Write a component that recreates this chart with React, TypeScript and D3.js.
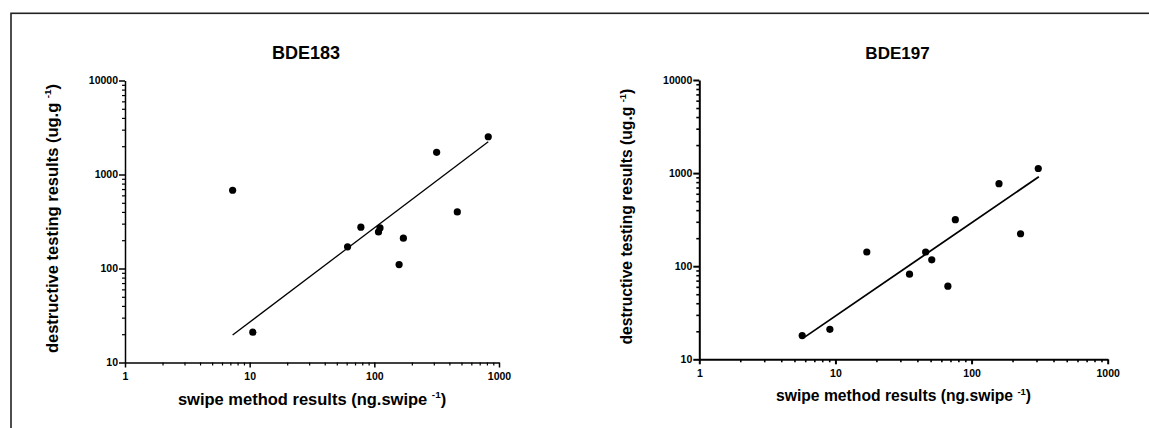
import { useEffect, useRef } from 'react';
import * as d3 from 'd3';

// BDE183 panel
const bde183Swipe = [7.3, 10.6, 61, 78, 108, 111, 158, 171, 316, 463, 820];
const bde183Destructive = [680, 21, 170, 275, 245, 270, 110, 210, 1720, 400, 2520];
const bde183FitSwipe = [7.3, 820];
const bde183FitDestructive = [19.6, 2230];

// BDE197 panel
const bde197Swipe = [5.7, 9.1, 17, 35, 46, 51, 67, 76, 159, 229, 309];
const bde197Destructive = [18, 21, 142, 82, 142, 117, 61, 316, 770, 223, 1120];
const bde197FitSwipe = [5.9, 312];
const bde197FitDestructive = [17.2, 914];

const xTicks = [1, 10, 100, 1000];
const yTicks = [10, 100, 1000, 10000];
const xLabel = 'swipe method results (ng.swipe ';
const yLabel = 'destructive testing results (ug.g ';

const FONT = '"Liberation Sans", Arial, sans-serif';

const panels = [
  {
    title: 'BDE183',
    swipe: bde183Swipe,
    destructive: bde183Destructive,
    fitSwipe: bde183FitSwipe,
    fitDestructive: bde183FitDestructive,
    left: 125, right: 499, top: 80.5, bottom: 362.5,
    labelFont: 16.5, titleFont: 18, axisWidth: 1.5, lineWidth: 1.3,
  },
  {
    title: 'BDE197',
    swipe: bde197Swipe,
    destructive: bde197Destructive,
    fitSwipe: bde197FitSwipe,
    fitDestructive: bde197FitDestructive,
    left: 699.3, right: 1107.7, top: 80, bottom: 359.3,
    labelFont: 15.7, titleFont: 17, axisWidth: 2, lineWidth: 1.8,
  },
];

const App = () => {
  const svgRef = useRef<SVGSVGElement>(null);

  useEffect(() => {
    const svg = d3.select(svgRef.current);
    svg.selectAll('*').remove();

    // outer frame (runs off the right and bottom edges)
    svg.append('rect')
      .attr('x', 11)
      .attr('y', 13.3)
      .attr('width', 1200)
      .attr('height', 500)
      .attr('fill', 'none')
      .attr('stroke', '#222')
      .attr('stroke-width', 1.6);

    panels.forEach(p => {
      const x = d3.scaleLog().domain([1, 1000]).range([p.left, p.right]);
      const y = d3.scaleLog().domain([10, 10000]).range([p.bottom, p.top]);
      const g = svg.append('g').style('font-family', FONT);

      const isMajor = (v: number) => Math.abs(Math.log10(v) - Math.round(Math.log10(v))) < 1e-9;
      const xMinor = x.ticks().filter(v => !isMajor(v));
      const yMinor = y.ticks().filter(v => !isMajor(v));

      // minor ticks
      g.append('g')
        .attr('transform', `translate(0,${p.bottom})`)
        .call(d3.axisBottom(x).tickValues(xMinor).tickSize(3).tickSizeOuter(0).tickFormat(() => ''))
        .call(a => a.select('.domain').remove())
        .call(a => a.selectAll('line').attr('stroke-width', p.axisWidth * 0.8));

      g.append('g')
        .attr('transform', `translate(${p.left},0)`)
        .call(d3.axisLeft(y).tickValues(yMinor).tickSize(3).tickSizeOuter(0).tickFormat(() => ''))
        .call(a => a.select('.domain').remove())
        .call(a => a.selectAll('line').attr('stroke-width', p.axisWidth * 0.8));

      // major ticks + labels
      const xAxis = g.append('g')
        .attr('transform', `translate(0,${p.bottom})`)
        .call(d3.axisBottom(x).tickValues(xTicks).tickSize(5).tickSizeOuter(0).tickPadding(5).tickFormat(d3.format('d')));
      const yAxis = g.append('g')
        .attr('transform', `translate(${p.left},0)`)
        .call(d3.axisLeft(y).tickValues(yTicks).tickSize(6).tickSizeOuter(0).tickPadding(1).tickFormat(d3.format('d')));

      [xAxis, yAxis].forEach(a => {
        a.select('.domain').attr('stroke-width', p.axisWidth).attr('stroke', '#000');
        a.selectAll('line').attr('stroke-width', p.axisWidth).attr('stroke', '#000');
        a.selectAll('text')
          .attr('font-family', FONT)
          .attr('font-weight', 'bold')
          .attr('font-size', 10.5)
          .attr('fill', '#000');
      });

      // fit line
      const line = d3.line<number>()
        .x(d => x(d))
        .y((d, i) => y(p.fitDestructive[i]));
      g.append('path')
        .datum(p.fitSwipe)
        .attr('d', line)
        .attr('fill', 'none')
        .attr('stroke', '#000')
        .attr('stroke-width', p.lineWidth);

      // points
      g.selectAll('.dot')
        .data(p.swipe.map((s, i) => ({ s, d: p.destructive[i] })))
        .enter().append('circle')
        .attr('class', 'dot')
        .attr('cx', d => x(d.s))
        .attr('cy', d => y(d.d))
        .attr('r', 3.6)
        .attr('fill', '#000');

      // title
      g.append('text')
        .attr('x', (p.left + p.right) / 2 - 6)
        .attr('y', 59.3)
        .attr('text-anchor', 'middle')
        .attr('font-weight', 'bold')
        .attr('font-size', p.titleFont)
        .text(p.title);

      // x label with superscript
      const xl = g.append('text')
        .attr('x', (p.left + p.right) / 2)
        .attr('y', p.bottom + 42)
        .attr('text-anchor', 'middle')
        .attr('font-weight', 'bold')
        .attr('font-size', p.labelFont);
      xl.append('tspan').text(xLabel);
      xl.append('tspan').attr('font-size', p.labelFont * 0.6).attr('dy', -p.labelFont * 0.4).text('-1');
      xl.append('tspan').attr('dy', p.labelFont * 0.4).text(')');

      // y label with superscript
      const yl = g.append('text')
        .attr('transform', `translate(${p.left - 67},${(p.top + p.bottom) / 2 - 3}) rotate(-90)`)
        .attr('text-anchor', 'middle')
        .attr('font-weight', 'bold')
        .attr('font-size', p.labelFont);
      yl.append('tspan').text(yLabel);
      yl.append('tspan').attr('font-size', p.labelFont * 0.6).attr('dy', -p.labelFont * 0.4).text('-1');
      yl.append('tspan').attr('dy', p.labelFont * 0.4).text(')');
    });
  }, []);

  return (
    <svg
      ref={svgRef}
      width={1149}
      height={428}
      style={{ position: 'absolute', left: 0, top: 0, background: '#fff' }}
    />
  );
};

export default App;
